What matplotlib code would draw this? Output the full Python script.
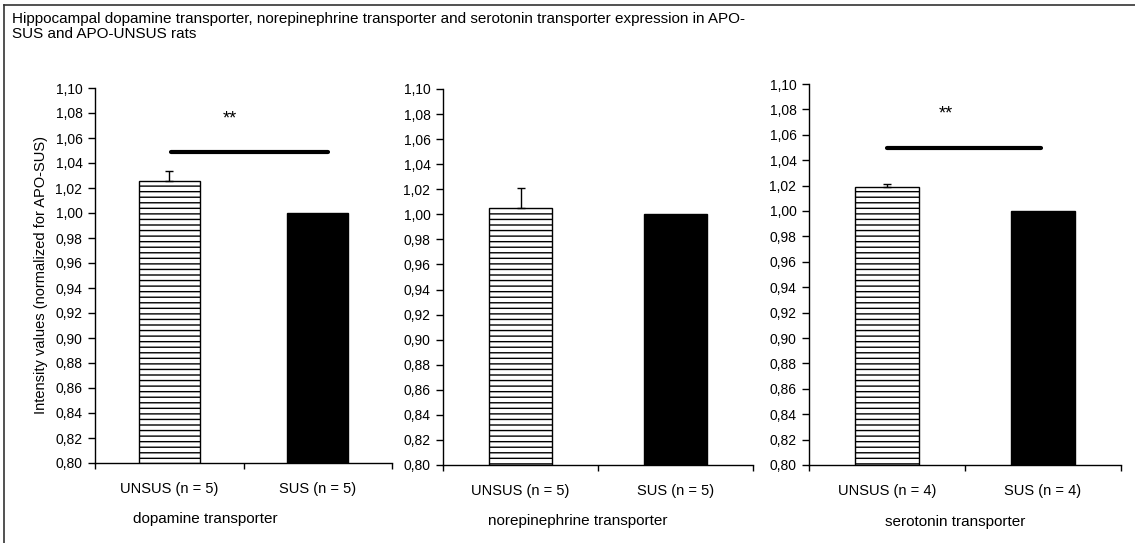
import matplotlib
matplotlib.use("Agg")
import matplotlib.pyplot as plt
from matplotlib.lines import Line2D
from matplotlib.ticker import FixedLocator, FuncFormatter

plt.rcParams['font.family'] = ['Liberation Sans', 'DejaVu Sans']
plt.rcParams['hatch.linewidth'] = 1.0

# transporter panels and group labels
transporters = ['dopamine transporter', 'norepinephrine transporter', 'serotonin transporter']
group_labels = [
    ['UNSUS (n = 5)', 'SUS (n = 5)'],
    ['UNSUS (n = 5)', 'SUS (n = 5)'],
    ['UNSUS (n = 4)', 'SUS (n = 4)'],
]

# intensity values normalized to APO-SUS (UNSUS, SUS)
unsus_means = [1.026, 1.005, 1.019]
unsus_sem = [0.008, 0.016, 0.002]
sus_means = [1.000, 1.000, 1.000]

# significance markers: None where no significant difference
sig_labels = ['**', None, '**']
sig_heights = [1.049, None, 1.050]

y_ticks = [0.80 + 0.02 * i for i in range(16)]

W, H = 1135, 543
fig = plt.figure(figsize=(W / 100, H / 100), dpi=100)

# axes boxes in pixels: left, top, right, bottom
boxes = [(95, 88, 392, 463), (443, 89, 753, 465), (809, 84, 1121, 465)]
xlabel_pos = [0.24, 0.37, 0.44]
star_pos = [0.41, None, 0.38]
sig_span = [(0.01, 1.07), None, (0.0, 0.99)]

comma_fmt = FuncFormatter(lambda v, _: f'{v:.2f}'.replace('.', ','))

for i, (l, t, r, b) in enumerate(boxes):
    ax = fig.add_axes([l / W, 1 - b / H, (r - l) / W, (b - t) / H])
    ax.bar(0, unsus_means[i] - 0.8, bottom=0.8, width=0.41, color='white',
           edgecolor='black', linewidth=1, hatch='---')
    ax.bar(1, sus_means[i] - 0.8, bottom=0.8, width=0.41, color='black',
           edgecolor='black', linewidth=1)
    ax.errorbar(0, unsus_means[i], yerr=[[0], [unsus_sem[i]]], fmt='none',
                ecolor='black', elinewidth=1, capsize=3, capthick=1)

    if sig_labels[i]:
        ax.plot(sig_span[i], [sig_heights[i]] * 2, color='black', lw=3,
                solid_capstyle='round')
        ax.text(star_pos[i], sig_heights[i] + 0.026, sig_labels[i],
                ha='center', va='center', fontsize=13)

    ax.set_xlim(-0.5, 1.5)
    ax.set_ylim(0.8, 1.1)
    ax.set_yticks(y_ticks)
    ax.yaxis.set_major_formatter(comma_fmt)
    ax.tick_params(axis='y', direction='out', length=5, width=1, pad=4, labelsize=10)

    # boundary ticks on the x axis, group names centred under the bars
    ax.xaxis.set_major_locator(FixedLocator([-0.5, 0.5, 1.5]))
    ax.xaxis.set_major_formatter(FuncFormatter(lambda v, _: ''))
    ax.xaxis.set_minor_locator(FixedLocator([0, 1]))
    ax.set_xticklabels(group_labels[i], minor=True)
    ax.tick_params(axis='x', which='major', direction='out', length=4, width=1)
    ax.tick_params(axis='x', which='minor', length=0, pad=14, labelsize=10.5)

    for side in ['top', 'right']:
        ax.spines[side].set_visible(False)
    for side in ['left', 'bottom']:
        ax.spines[side].set_linewidth(1)

    ax.text(xlabel_pos[i], -0.15, transporters[i], transform=ax.get_xaxis_transform(),
            ha='center', va='center', fontsize=11)

    if i == 0:
        ax.set_ylabel('Intensity values (normalized for APO-SUS)', fontsize=10.5, labelpad=5)

fig.text(12 / W, 1 - 12 / H,
         'Hippocampal dopamine transporter, norepinephrine transporter and serotonin transporter expression in APO-\nSUS and APO-UNSUS rats',
         ha='left', va='top', fontsize=11, linespacing=1.05)

# outer frame (top and left edges)
fig.add_artist(Line2D([4 / W, 1], [1 - 5 / H] * 2, color='#333333', lw=1.2))
fig.add_artist(Line2D([4 / W] * 2, [0, 1 - 5 / H], color='#333333', lw=1.2))

fig.savefig('out.png', dpi=100)
